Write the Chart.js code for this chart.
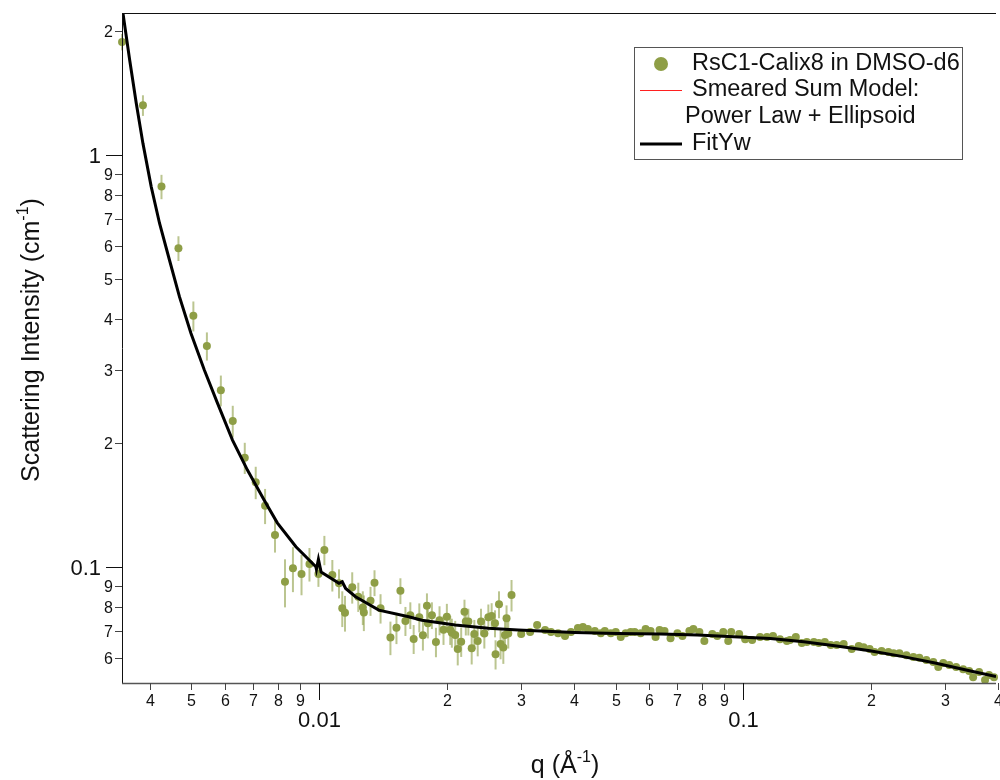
<!DOCTYPE html>
<html>
<head>
<meta charset="utf-8">
<script src="https://cdn.jsdelivr.net/npm/chart.js@4/dist/chart.umd.min.js"></script>
<style>
  html, body { margin: 0; padding: 0; background: #ffffff; }
  #wrap { width: 1000px; height: 780px; }
</style>
</head>
<body>
<div id="wrap"><canvas id="c" width="1000" height="780"></canvas></div>
<script>
// ---------------- data ----------------
const qData = [
  0.00343, 0.003842, 0.004249, 0.004659, 0.005052, 0.005437, 0.005865, 0.006257, 0.006679, 0.007088,
  0.007457, 0.00787, 0.008308, 0.008676, 0.009089, 0.00949, 0.009963, 0.01029, 0.010745, 0.01114,
  0.01134, 0.01151, 0.01197, 0.01237, 0.01268, 0.01275, 0.01322, 0.01351, 0.01396, 0.01473,
  0.01522, 0.01555, 0.01598, 0.01641, 0.01671, 0.01723, 0.01757, 0.01796, 0.01805, 0.01845,
  0.01886, 0.01923, 0.01965, 0.02001, 0.02038, 0.02056, 0.02094, 0.02123, 0.02163, 0.02202,
  0.02218, 0.02249, 0.0229, 0.02323, 0.02366, 0.02409, 0.02453, 0.02507, 0.02552, 0.02599,
  0.02607, 0.02656, 0.02679, 0.02719, 0.02744, 0.02767, 0.02793, 0.02843,
  0.02996, 0.03145, 0.03267, 0.03411, 0.03523, 0.0366, 0.03801, 0.03926, 0.04077, 0.04189,
  0.04304, 0.04469, 0.04617, 0.04718, 0.04874, 0.05007, 0.05144, 0.05284, 0.05429, 0.05548,
  0.05731, 0.05888, 0.06049, 0.06215, 0.06351, 0.06525, 0.06741, 0.06999, 0.07191, 0.07468,
  0.07631, 0.07884, 0.0810, 0.08457, 0.0869, 0.08977, 0.09222, 0.09372, 0.09786, 0.1011,
  0.1050, 0.1096, 0.1138, 0.1176, 0.1221, 0.1268, 0.1289, 0.1331, 0.1375, 0.1413,
  0.1468, 0.1508, 0.1558, 0.1609, 0.1662, 0.1726, 0.1803, 0.1873, 0.1923, 0.1987,
  0.2041, 0.2120, 0.2201, 0.2262, 0.2336, 0.2427, 0.2520, 0.2603, 0.2704, 0.2808,
  0.2885, 0.2964, 0.3062, 0.3179, 0.3302, 0.3411, 0.3486, 0.3601, 0.3719, 0.3800, 0.3904
];
const iData = [
  1.88, 1.32, 0.838, 0.594, 0.407, 0.344, 0.2685, 0.2262, 0.1842, 0.1606,
  0.1409, 0.1196, 0.0921, 0.0993, 0.0962, 0.1017, 0.0962, 0.110, 0.0956, 0.0913,
  0.0794, 0.0774, 0.0893, 0.0847, 0.0798, 0.0776, 0.0828, 0.0916, 0.0794, 0.0674,
  0.0712, 0.0876, 0.0740, 0.0764, 0.0669, 0.0755, 0.0683, 0.0805, 0.0730, 0.0764,
  0.0658, 0.0743, 0.0704, 0.0757, 0.0704, 0.0693, 0.0684, 0.0632, 0.0659, 0.0779,
  0.0737, 0.0737, 0.0635, 0.0688, 0.0661, 0.0737, 0.0690, 0.0755, 0.0760, 0.0730,
  0.0614, 0.0812, 0.0650, 0.0638, 0.0684, 0.0751, 0.0690, 0.0855,
  0.0688, 0.0695, 0.0723, 0.0703, 0.0695, 0.0691, 0.0680, 0.0695, 0.0711, 0.0715,
  0.0707, 0.0699, 0.0691, 0.0699, 0.0691, 0.0695, 0.0676, 0.0691, 0.0695, 0.0695,
  0.0691, 0.0707, 0.0699, 0.0676, 0.0703, 0.0699, 0.0672, 0.0691, 0.0680, 0.0699,
  0.0707, 0.0695, 0.0661, 0.0688, 0.0680, 0.0695, 0.0661, 0.0695, 0.0688, 0.0668,
  0.0665, 0.0676, 0.0676, 0.0680, 0.0668, 0.0661, 0.0665, 0.0676, 0.0654, 0.0658,
  0.0658, 0.0654, 0.0658, 0.0647, 0.0647, 0.0650, 0.0632, 0.0643, 0.0639, 0.0632,
  0.0622, 0.0625, 0.0622, 0.0618, 0.0618, 0.0611, 0.0605, 0.0602, 0.0595, 0.0588,
  0.0572, 0.0585, 0.0578, 0.0572, 0.0565, 0.0559, 0.0540, 0.0556, 0.0532, 0.0547, 0.0540
];
const iErr = [
  0.086, 0.076, 0.057, 0.041, 0.034, 0.027, 0.023, 0.020, 0.016, 0.0145,
  0.0138, 0.0112, 0.0123, 0.0124, 0.0108, 0.0095, 0.0067, 0.0090, 0.0084, 0.0074,
  0.0079, 0.0077, 0.0078, 0.0069, 0.0075, 0.0077, 0.0067, 0.0066, 0.0065, 0.0063,
  0.0062, 0.0063, 0.0060, 0.0057, 0.0054, 0.0061, 0.0056, 0.0058, 0.0059, 0.0057,
  0.0054, 0.0060, 0.0057, 0.0057, 0.0057, 0.0056, 0.0056, 0.0055, 0.0054, 0.0054,
  0.0055, 0.0055, 0.0055, 0.0056, 0.0054, 0.0055, 0.0056, 0.0056, 0.0057, 0.0055,
  0.0050, 0.0061, 0.0053, 0.0056, 0.0056, 0.0056, 0.0056, 0.0075,
  0.0012, 0.0012, 0.0012, 0.0012, 0.0012, 0.0012, 0.0012, 0.0012, 0.0008, 0.0008,
  0.0008, 0.0008, 0.0008, 0.0008, 0.0008, 0.0008, 0.0008, 0.0008, 0.0008, 0.0008,
  0.0007, 0.0007, 0.0007, 0.0007, 0.0007, 0.0007, 0.0007, 0.0007, 0.0007, 0.0007,
  0.0006, 0.0006, 0.0006, 0.0006, 0.0006, 0.0006, 0.0006, 0.0006, 0.0006, 0.0006,
  0.0006, 0.0006, 0.0006, 0.0006, 0.0006, 0.0006, 0.0006, 0.0006, 0.0006, 0.0006,
  0.0006, 0.0006, 0.0006, 0.0006, 0.0006, 0.0006, 0.0006, 0.0006, 0.0006, 0.0006,
  0.0006, 0.0006, 0.0006, 0.0006, 0.0006, 0.0006, 0.0006, 0.0006, 0.0006, 0.0006,
  0.0006, 0.0006, 0.0006, 0.0006, 0.0006, 0.0006, 0.0006, 0.0006, 0.0006, 0.0006, 0.0006
];
const qFit = [
  0.003429, 0.003447, 0.003575, 0.003705, 0.003842, 0.004018, 0.004204, 0.004437, 0.004684, 0.004986,
  0.005362, 0.005762, 0.006248, 0.006776, 0.007418, 0.007969, 0.008817, 0.009824, 0.009856, 0.009963,
  0.01011, 0.01114, 0.01134, 0.01155, 0.01219, 0.01383, 0.01627, 0.01747, 0.02094, 0.02507,
  0.02948, 0.04005, 0.05061, 0.06395, 0.07798, 0.1004, 0.1159, 0.1389, 0.1662, 0.1990,
  0.2384, 0.2854, 0.3417, 0.3947
];
const iFit = [
  2.30, 2.207, 1.701, 1.335, 1.067, 0.838, 0.6828, 0.5561, 0.4530, 0.3692,
  0.3008, 0.2496, 0.2033, 0.1719, 0.1454, 0.1280, 0.1120, 0.1002, 0.0987, 0.1044,
  0.0972, 0.0913, 0.0921, 0.0887, 0.0847, 0.0786, 0.0757, 0.0743, 0.0723, 0.0710,
  0.0703, 0.0694, 0.0690, 0.0688, 0.0684, 0.0675, 0.0671, 0.0659, 0.0643, 0.0626,
  0.0606, 0.0584, 0.0560, 0.0542
];
const seriesLabels = ['RsC1-Calix8 in DMSO-d6', 'Smeared Sum Model:|Power Law + Ellipsoid', 'FitYw'];
const xTickValues = [0.004,0.005,0.006,0.007,0.008,0.009,0.01,0.02,0.03,0.04,0.05,0.06,0.07,0.08,0.09,0.1,0.2,0.3,0.4];
const xTickLabels = ['4','5','6','7','8','9','0.01','2','3','4','5','6','7','8','9','0.1','2','3','4'];
const yTickValues = [2,1,0.9,0.8,0.7,0.6,0.5,0.4,0.3,0.2,0.1,0.09,0.08,0.07,0.06];
const yTickLabels = ['2','1','9','8','7','6','5','4','3','2','0.1','9','8','7','6'];
const xRange = [0.003429, 0.3947];
const yRange = [0.0523, 2.211];

// ---------------- styles ----------------
const FONT = '"Liberation Sans", Arial, sans-serif';
const GREEN = '#8e9e46';
const ERR_COLOR = 'rgba(142,158,70,0.6)';

function richWidth(ctx, parts, size, supSize) {
  let w = 0;
  parts.forEach(p => {
    ctx.font = (p.sup ? supSize : size) + 'px ' + FONT;
    w += ctx.measureText(p.t).width;
  });
  return w;
}
function drawRich(ctx, parts, cx, baseY, size, supSize, raise) {
  const w = richWidth(ctx, parts, size, supSize);
  let x = cx - w / 2;
  ctx.textAlign = 'left';
  ctx.textBaseline = 'alphabetic';
  parts.forEach(p => {
    ctx.font = (p.sup ? supSize : size) + 'px ' + FONT;
    ctx.fillText(p.t, x, p.sup ? baseY - raise : baseY);
    x += ctx.measureText(p.t).width;
  });
}

const errorBars = {
  id: 'errorBars',
  beforeDatasetsDraw(chart) {
    const ctx = chart.ctx, xs = chart.scales.x, ys = chart.scales.y;
    ctx.save();
    ctx.strokeStyle = ERR_COLOR;
    ctx.lineWidth = 2;
    qData.forEach((q, i) => {
      const px = xs.getPixelForValue(q);
      const lo = Math.max(iData[i] - iErr[i], 1e-4);
      const y1 = ys.getPixelForValue(iData[i] + iErr[i]);
      const y2 = ys.getPixelForValue(lo);
      ctx.beginPath();
      ctx.moveTo(px, y1);
      ctx.lineTo(px, y2);
      ctx.stroke();
    });
    ctx.restore();
  }
};

const axesPlugin = {
  id: 'axesPlugin',
  afterDraw(chart) {
    const ctx = chart.ctx, a = chart.chartArea, xs = chart.scales.x, ys = chart.scales.y;
    ctx.save();
    // frame lines
    ctx.strokeStyle = '#111';
    ctx.lineWidth = 1;
    ctx.beginPath();
    ctx.moveTo(a.left + 0.5, a.top); ctx.lineTo(a.left + 0.5, a.bottom + 1);
    ctx.moveTo(a.left, a.top + 0.5); ctx.lineTo(a.right, a.top + 0.5);
    ctx.stroke();
    ctx.strokeStyle = '#555';
    ctx.lineWidth = 1.5;
    ctx.beginPath();
    ctx.moveTo(a.left, a.bottom + 0.5); ctx.lineTo(a.right, a.bottom + 0.5);
    ctx.stroke();

    // x ticks
    ctx.fillStyle = '#111';
    xTickValues.forEach((v, i) => {
      const major = xTickLabels[i].indexOf('.') >= 0;
      const px = Math.round(xs.getPixelForValue(v)) + 0.5;
      ctx.strokeStyle = major ? '#111' : '#444';
      ctx.lineWidth = 1;
      ctx.beginPath();
      ctx.moveTo(px, a.bottom);
      ctx.lineTo(px, a.bottom + (major ? 17 : 7));
      ctx.stroke();
      ctx.textAlign = 'center';
      ctx.textBaseline = 'middle';
      ctx.font = (major ? 22 : 16) + 'px ' + FONT;
      ctx.fillText(xTickLabels[i], px, major ? a.bottom + 38 : a.bottom + 19);
    });
    // y ticks
    yTickValues.forEach((v, i) => {
      const major = yTickLabels[i] === '1' || yTickLabels[i].indexOf('.') >= 0;
      const py = Math.round(ys.getPixelForValue(v)) + 0.5;
      ctx.strokeStyle = major ? '#111' : '#444';
      ctx.lineWidth = 1;
      ctx.beginPath();
      ctx.moveTo(a.left, py);
      ctx.lineTo(a.left - (major ? 16 : 7), py);
      ctx.stroke();
      ctx.textAlign = 'right';
      ctx.textBaseline = 'middle';
      ctx.font = (major ? 22 : 16) + 'px ' + FONT;
      ctx.fillText(yTickLabels[i], major ? a.left - 21 : a.left - 9, py + 1);
    });

    // axis titles
    ctx.fillStyle = '#111';
    drawRich(ctx, [{t: 'q (\u00C5'}, {t: '-1', sup: true}, {t: ')'}], 565, 773, 25, 16, 11);
    ctx.save();
    ctx.translate(39, 340);
    ctx.rotate(-Math.PI / 2);
    drawRich(ctx, [{t: 'Scattering Intensity (cm'}, {t: '-1', sup: true}, {t: ')'}], 0, 0, 25, 16, 11);
    ctx.restore();

    // legend
    const L = {x: 634, y: 47, w: 328, h: 112};
    ctx.fillStyle = '#fff';
    ctx.fillRect(L.x, L.y, L.w, L.h);
    ctx.strokeStyle = '#555';
    ctx.lineWidth = 1;
    ctx.strokeRect(L.x + 0.5, L.y + 0.5, L.w, L.h);
    ctx.font = '23.5px ' + FONT;
    ctx.textAlign = 'left';
    ctx.textBaseline = 'middle';
    const ds = chart.data.datasets;
    // entry 1: points
    ctx.fillStyle = GREEN;
    ctx.beginPath(); ctx.arc(661, 64, 7, 0, Math.PI * 2); ctx.fill();
    ctx.fillStyle = '#111';
    ctx.fillText(ds[1].label, 692, 64);
    // entry 2: red smeared model
    const lines2 = ds[2].label.split('|');
    ctx.strokeStyle = ds[2].borderColor; ctx.lineWidth = 1;
    ctx.beginPath(); ctx.moveTo(640, 90.5); ctx.lineTo(682, 90.5); ctx.stroke();
    ctx.fillText(lines2[0], 692, 90);
    ctx.fillText(lines2[1], 685, 117);
    // entry 3: fit
    ctx.strokeStyle = ds[0].borderColor; ctx.lineWidth = 3;
    ctx.beginPath(); ctx.moveTo(640, 144); ctx.lineTo(682, 144); ctx.stroke();
    ctx.fillText(ds[0].label, 692, 144);
    ctx.restore();
  }
};

const chart = new Chart(document.getElementById('c'), {
  type: 'scatter',
  data: {
    datasets: [
      {
        label: seriesLabels[2],
        data: qFit.map((q, i) => ({x: q, y: iFit[i]})),
        showLine: true,
        borderColor: '#000',
        borderWidth: 3,
        pointRadius: 0,
        tension: 0,
        order: 0
      },
      {
        label: seriesLabels[0],
        data: qData.map((q, i) => ({x: q, y: iData[i]})),
        showLine: false,
        pointRadius: 4,
        pointBackgroundColor: GREEN,
        pointBorderWidth: 0,
        borderColor: GREEN,
        clip: false,
        order: 1
      },
      {
        label: seriesLabels[1],
        data: [],
        showLine: true,
        borderColor: '#ff2020',
        borderWidth: 1,
        pointRadius: 0,
        order: 2
      }
    ]
  },
  options: {
    responsive: false,
    animation: false,
    devicePixelRatio: 1,
    layout: { padding: { left: 122, top: 13, right: 0, bottom: 97 } },
    plugins: { legend: { display: false }, tooltip: { enabled: false } },
    scales: {
      x: { type: 'logarithmic', min: xRange[0], max: xRange[1], display: false },
      y: { type: 'logarithmic', min: yRange[0], max: yRange[1], display: false }
    }
  },
  plugins: [errorBars, axesPlugin]
});
</script>
</body>
</html>
